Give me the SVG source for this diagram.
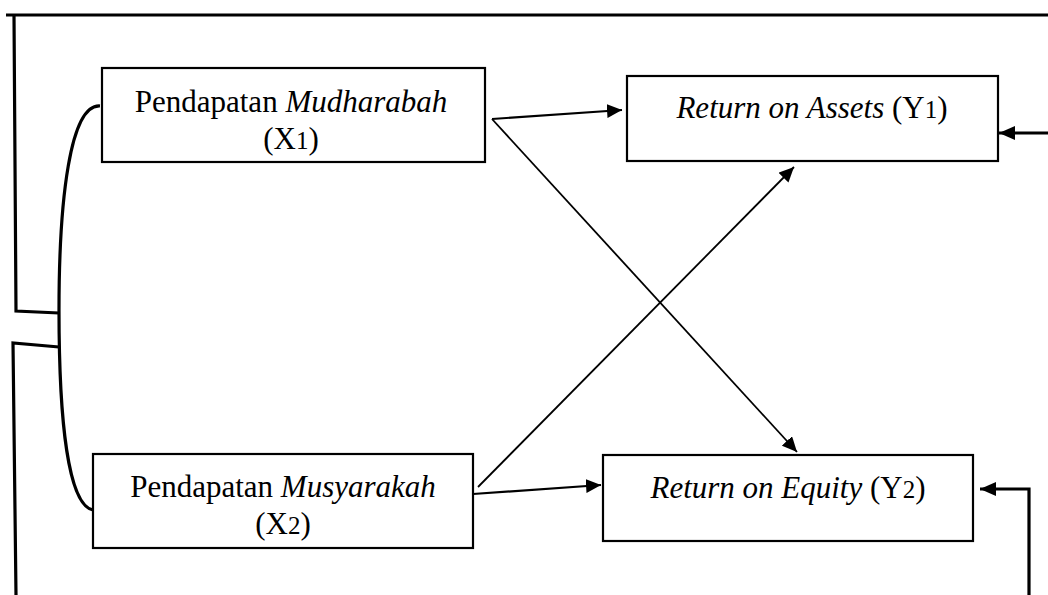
<svg xmlns="http://www.w3.org/2000/svg" width="1048" height="595" viewBox="0 0 1048 595">
<style>
  .box { fill: #ffffff; stroke: #000000; stroke-width: 2.2; }
  .frame { fill: none; stroke: #000000; stroke-width: 3.2; stroke-linejoin: miter; }
  .conn { fill: none; stroke: #000000; stroke-width: 2.2; }
  .thin { fill: none; stroke: #000000; stroke-width: 1.8; }
  .t { font-family: "Liberation Serif", "Times New Roman", serif; font-size: 31px; fill: #000000; }
  .i { font-family: "Liberation Serif", "Times New Roman", serif; font-style: italic; }
  .sub { font-size: 25px; }
</style>
<defs>
  <marker id="ah" markerUnits="userSpaceOnUse" markerWidth="16" markerHeight="14" refX="15" refY="7" orient="auto">
    <path d="M0,0 L15,7 L0,14 z" fill="#000000"/>
  </marker>
  <marker id="ahb" markerUnits="userSpaceOnUse" markerWidth="17" markerHeight="14" refX="16" refY="7" orient="auto">
    <path d="M0,0 L16,7 L0,14 z" fill="#000000"/>
  </marker>
</defs>
<rect width="1048" height="595" fill="#ffffff"/>

<g id="frame">
  <path class="frame" d="M6 15 L1048 15"/>
  <path class="frame" d="M14 15 L16 311 L59 313"/>
  <path class="frame" d="M59 347 L13 343 L16 595"/>
  <path class="frame" d="M100 106 C 70 104, 59 200, 59 310 C 59 420, 68 505, 93 510"/>
</g>

<g id="connectors">
  <path class="conn" d="M492 119 L622 110" marker-end="url(#ah)"/>
  <path class="thin" d="M492 119 L797 452" marker-end="url(#ah)"/>
  <path class="thin" d="M478 487 L794 167" marker-end="url(#ah)"/>
  <path class="conn" d="M473 494 L601 485" marker-end="url(#ah)"/>
  <path class="frame" d="M1048 133 L999 133" marker-end="url(#ahb)"/>
  <path class="frame" d="M1029 595 L1029 489 L980 489" marker-end="url(#ahb)"/>
</g>

<g id="node-x1">
  <rect class="box" x="102" y="68" width="383" height="94"/>
  <text class="t" x="291" y="112" text-anchor="middle">Pendapatan <tspan class="i">Mudharabah</tspan></text>
  <text class="t" x="291" y="149" text-anchor="middle">(X<tspan class="sub">1</tspan>)</text>
</g>

<g id="node-x2">
  <rect class="box" x="93" y="454" width="380" height="94"/>
  <text class="t" x="283" y="497" text-anchor="middle">Pendapatan <tspan class="i">Musyarakah</tspan></text>
  <text class="t" x="283" y="534" text-anchor="middle">(X<tspan class="sub">2</tspan>)</text>
</g>

<g id="node-y1">
  <rect class="box" x="627" y="76" width="371" height="85"/>
  <text class="t" x="812" y="118" text-anchor="middle"><tspan class="i">Return on Assets</tspan> (Y<tspan class="sub">1</tspan>)</text>
</g>

<g id="node-y2">
  <rect class="box" x="603" y="455" width="370" height="86"/>
  <text class="t" x="788" y="498" text-anchor="middle"><tspan class="i">Return on Equity</tspan> (Y<tspan class="sub">2</tspan>)</text>
</g>
</svg>
